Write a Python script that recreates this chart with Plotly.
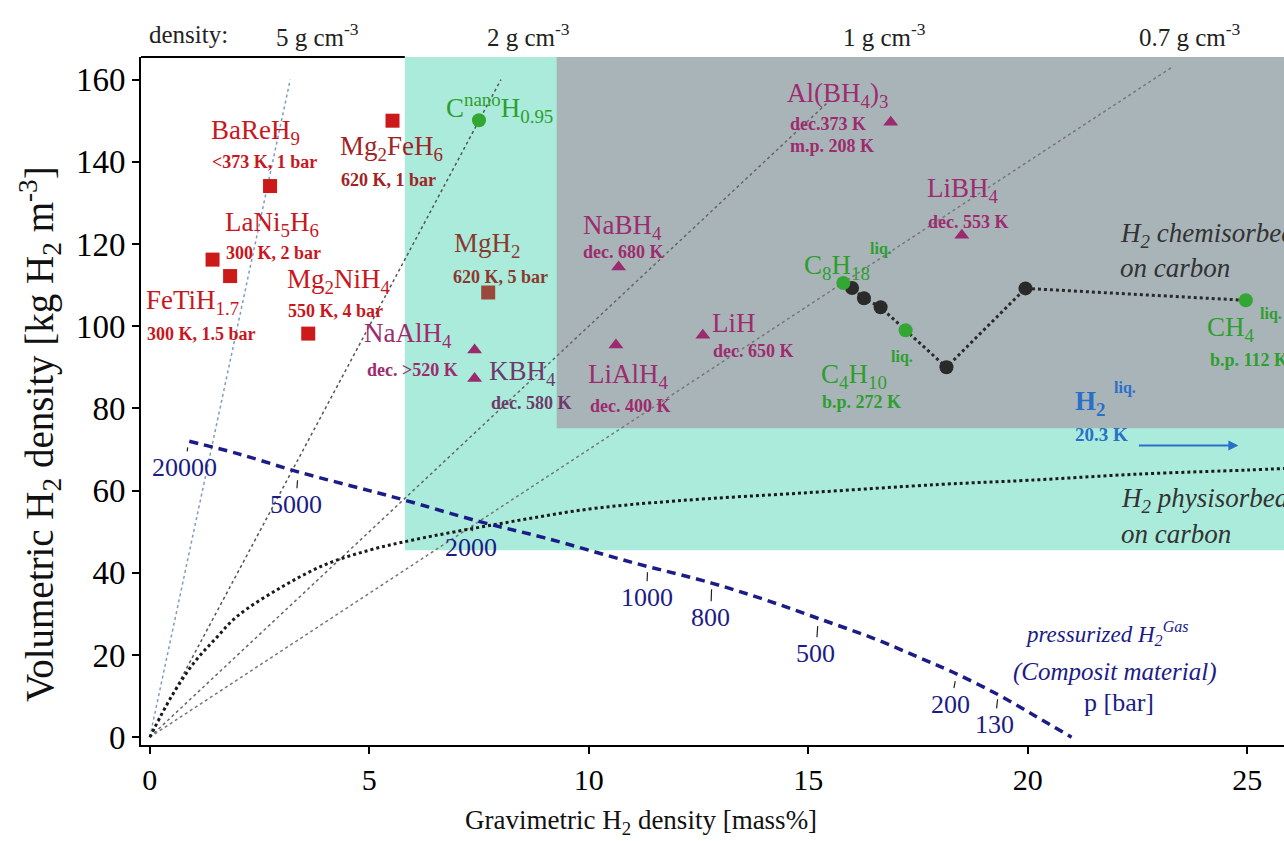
import plotly.graph_objects as go

# ---------------- data ----------------
# metal hydrides (red squares)
mh_names = ["LaNi5H6", "FeTiH1.7", "BaReH9", "Mg2NiH4", "Mg2FeH6"]
mh_x = [1.43, 1.83, 2.74, 3.61, 5.53]
mh_y = [116.2, 112.2, 134.1, 98.2, 150.0]
mgh2_x = [7.71]
mgh2_y = [108.2]

# complex hydrides (purple triangles)
ch_names = ["NaAlH4", "KBH4", "NaBH4", "LiAlH4", "LiH", "Al(BH4)3", "LiBH4"]
ch_x = [7.4, 7.4, 10.68, 10.62, 12.6, 16.88, 18.5]
ch_y = [94.2, 87.3, 114.4, 95.4, 97.8, 149.6, 122.1]

# hydrocarbons / carbon (green circles)
hc_names = ["CnanoH0.95", "C8H18", "C4H10", "CH4"]
hc_x = [7.5, 15.8, 17.22, 24.97]
hc_y = [150.1, 110.5, 99.0, 106.3]

# chemisorbed path (black dotted with black circles)
chem_x = [15.8, 16.0, 16.27, 16.65, 17.22, 18.15, 19.95, 24.97]
chem_y = [110.5, 109.3, 106.8, 104.6, 99.0, 90.0, 109.2, 106.3]
chem_pts_x = [16.0, 16.27, 16.65, 18.15, 19.95]
chem_pts_y = [109.3, 106.8, 104.6, 90.0, 109.2]

# physisorbed curve
phys_x = [0, 0.5, 1, 1.5, 2, 3, 4, 5, 6, 8, 10, 12, 15, 18, 20, 22.5, 25, 25.9]
phys_y = [0, 10, 18, 24, 29.5, 36.5, 42, 45.5, 48, 52, 55.5, 57.5, 59.5, 61.5, 62.5, 64, 65, 65.4]

# pressurized H2 curve
pres_x = [0.9, 2, 3.4, 5, 5.8, 7.5, 9, 11, 12.8, 14, 15.2, 16.5, 17.5, 18.3, 19.3, 20.2, 21.0]
pres_y = [72, 69, 64.5, 60, 57.7, 52.5, 48.5, 42.5, 37.5, 33.5, 29, 24, 19.5, 15.8, 10.5, 5, 0]
p_labels = ["20000", "5000", "2000", "1000", "800", "500", "200", "130"]
p_x = [0.87, 3.37, 7.36, 11.34, 12.80, 15.22, 18.36, 19.32]
p_y = [71.0, 63.0, 51.8, 40.6, 36.5, 27.5, 14.1, 9.7]

# material density lines (from origin)
dens_labels = ["5 g cm<sup>-3</sup>", "2 g cm<sup>-3</sup>", "1 g cm<sup>-3</sup>", "0.7 g cm<sup>-3</sup>"]
dens_end_x = [3.2, 8.0, 15.5, 23.3]
dens_end_y = [160, 160, 155, 163.1]

# liquid hydrogen
h2liq_x = [22.5, 24.8]
h2liq_y = [71, 71]

# ---------------- helpers for label placement ----------------
X0PX, XS, Y0PX, YS = 149, 43.9, 737, 4.11
def dx(px):
    return (px - X0PX) / XS
def dy(py):
    return (Y0PX - py) / YS

SERIF = "Liberation Serif"
RED = "#c8171e"
BROWN = "#8a3a2c"
PURPLE = "#9c2c6e"
GREEN = "#2e9e2e"
BLUE = "#2a70c8"
NAVY = "#1c1c86"
DARK = "#333333"

BIG = 27
SMALL = 18

fig = go.Figure()

# background regions
fig.add_shape(type="rect", xref="x", yref="y", x0=5.81, x1=27, y0=45.5, y1=166.5,
              fillcolor="#abebdc", line_width=0, layer="below")
fig.add_shape(type="rect", xref="x", yref="y", x0=9.27, x1=27, y0=75.2, y1=166.5,
              fillcolor="#a9b4b9", line_width=0, layer="below")
# top frame segment
fig.add_shape(type="line", xref="x", yref="paper", x0=-0.2, x1=5.81, y0=1, y1=1,
              line=dict(color="black", width=2))

# density lines
dens_colors = ["#7f9cc0", "#555555", "#666666", "#777777"]
for ex, ey, c in zip(dens_end_x, dens_end_y, dens_colors):
    fig.add_trace(go.Scatter(x=[0, ex], y=[0, ey], mode="lines",
                             line=dict(color=c, width=1.5, dash="dot"), hoverinfo="skip"))

# physisorbed curve
fig.add_trace(go.Scatter(x=phys_x, y=phys_y, mode="lines", line_shape="spline",
                         line=dict(color="#1a1a1a", width=3, dash="dot")))
# pressurized curve
fig.add_trace(go.Scatter(x=pres_x, y=pres_y, mode="lines", line_shape="spline",
                         line=dict(color=NAVY, width=3.5, dash="9px,6px")))
# chemisorbed path
fig.add_trace(go.Scatter(x=chem_x, y=chem_y, mode="lines",
                         line=dict(color="#2a2a2a", width=3, dash="dot")))
fig.add_trace(go.Scatter(x=chem_pts_x, y=chem_pts_y, mode="markers",
                         marker=dict(color="#2a2a2a", size=14, symbol="circle")))

# markers
fig.add_trace(go.Scatter(x=mh_x, y=mh_y, mode="markers", text=mh_names,
                         marker=dict(color="#cc1a1a", size=14, symbol="square")))
fig.add_trace(go.Scatter(x=mgh2_x, y=mgh2_y, mode="markers",
                         marker=dict(color="#9a4a3a", size=14, symbol="square")))
fig.add_trace(go.Scatter(x=ch_x, y=ch_y, mode="markers", text=ch_names,
                         marker=dict(color="#9b2a6e", size=13, symbol="triangle-up")))
fig.add_trace(go.Scatter(x=hc_x, y=hc_y, mode="markers", text=hc_names,
                         marker=dict(color="#33a633", size=14, symbol="circle")))

ann = []
def lab(text, px, py, color, size, xanchor="center", bold=False):
    ann.append(dict(text=("<b>" + text + "</b>") if bold else text, x=dx(px), y=dy(py),
                    xref="x", yref="y", showarrow=False, xanchor=xanchor, yanchor="middle",
                    font=dict(family=SERIF, size=size, color=color)))

# metal hydride labels
lab("BaReH<sub>9</sub>", 255, 132, RED, BIG)
lab("&lt;373 K, 1 bar", 264, 162, RED, SMALL, bold=True)
lab("Mg<sub>2</sub>FeH<sub>6</sub>", 391, 148, "#a02424", BIG)
lab("620 K, 1 bar", 388, 180, "#a02424", SMALL, bold=True)
lab("LaNi<sub>5</sub>H<sub>6</sub>", 271, 224, RED, BIG)
lab("300 K, 2 bar", 273, 253, RED, SMALL, bold=True)
lab("Mg<sub>2</sub>NiH<sub>4</sub>", 338, 281, RED, BIG)
lab("550 K, 4 bar", 335, 311, RED, SMALL, bold=True)
lab("FeTiH<sub>1.7</sub>", 192, 302, RED, BIG)
lab("300 K, 1.5 bar", 201, 334, RED, SMALL, bold=True)
lab("MgH<sub>2</sub>", 486, 245, BROWN, BIG)
lab("620 K, 5 bar", 500, 277, BROWN, SMALL, bold=True)

# carbon / hydrocarbons
lab("C<sup>nano</sup>H<sub>0.95</sub>", 499, 108, GREEN, BIG)
lab("C<sub>8</sub>H<sub>18</sub>", 836, 267, GREEN, BIG)
lab("liq.", 880, 249, GREEN, 16, bold=True)
lab("C<sub>4</sub>H<sub>10</sub>", 853, 376, GREEN, BIG)
lab("liq.", 901, 357, GREEN, 16, bold=True)
lab("b.p. 272 K", 861, 402, GREEN, SMALL, bold=True)
lab("CH<sub>4</sub>", 1230, 329, GREEN, BIG)
lab("liq.", 1270, 314, GREEN, 16, bold=True)
lab("b.p. 112 K", 1207, 360, GREEN, SMALL, xanchor="left", bold=True)

# complex hydrides
lab("Al(BH<sub>4</sub>)<sub>3</sub>", 837, 95, PURPLE, BIG)
lab("dec.373 K", 827, 124, PURPLE, SMALL, bold=True)
lab("m.p. 208 K", 831, 146, PURPLE, SMALL, bold=True)
lab("NaBH<sub>4</sub>", 622, 227, PURPLE, BIG)
lab("dec. 680 K", 623, 252, PURPLE, SMALL, bold=True)
lab("LiAlH<sub>4</sub>", 628, 376, PURPLE, BIG)
lab("dec. 400 K", 630, 406, PURPLE, SMALL, bold=True)
lab("LiH", 733, 323, PURPLE, BIG)
lab("dec. 650 K", 753, 351, PURPLE, SMALL, bold=True)
lab("LiBH<sub>4</sub>", 962, 190, PURPLE, BIG)
lab("dec. 553 K", 968, 222, PURPLE, SMALL, bold=True)
lab("NaAlH<sub>4</sub>", 407, 335, PURPLE, BIG)
lab("dec. &gt;520 K", 412, 370, PURPLE, SMALL, bold=True)
lab("KBH<sub>4</sub>", 522, 373, "#6e3a6a", BIG)
lab("dec. 580 K", 531, 403, "#6e3a6a", SMALL, bold=True)

# liquid hydrogen
lab("H<sub>2</sub>", 1089, 403, BLUE, BIG, bold=True)
lab("liq.", 1124, 388, BLUE, 16, bold=True)
lab("20.3 K", 1101, 434, BLUE, 19, bold=True)
ann.append(dict(x=h2liq_x[1], y=h2liq_y[1], ax=h2liq_x[0], ay=h2liq_y[0],
                xref="x", yref="y", axref="x", ayref="y", text="", showarrow=True,
                arrowhead=2, arrowsize=1, arrowwidth=2, arrowcolor=BLUE))

# chemisorbed / physisorbed text
lab("<i>H<sub>2</sub> chemisorbed</i>", 1117, 235, DARK, 27, xanchor="left")
lab("<i>on carbon</i>", 1117, 268, DARK, 27, xanchor="left")
lab("<i>H<sub>2</sub> physisorbed</i>", 1118, 500, DARK, 27, xanchor="left")
lab("<i>on carbon</i>", 1118, 534, DARK, 27, xanchor="left")

# pressurized text
lab("<i>pressurized H<sub>2</sub><sup>Gas</sup></i>", 1022, 633, NAVY, 23, xanchor="left")
lab("<i>(Composit material)</i>", 1114, 672, NAVY, 25)
lab("p [bar]", 1118, 702, NAVY, 26)

# pressure labels with small leader ticks
offsets = [(-3, 22), (-2, 26), (-2, 23), (-1, 27), (-1, 30), (-2, 29), (-5, 25), (-3, 27)]
for t, x, y, (ox, oy) in zip(p_labels, p_x, p_y, offsets):
    ann.append(dict(text=t, x=x, y=y, xref="x", yref="y", ax=ox, ay=oy, showarrow=True,
                    arrowhead=0, arrowwidth=1.2, arrowcolor="#222222", standoff=2,
                    font=dict(family=SERIF, size=26, color=NAVY)))

# density labels across the top
ann.append(dict(text="density:", x=dx(188), y=1.032, xref="x", yref="paper", showarrow=False,
                yanchor="middle", font=dict(family=SERIF, size=25, color="#222222")))
dens_label_px = [317, 528, 884, 1189]
for t, px in zip(dens_labels, dens_label_px):
    ann.append(dict(text=t, x=dx(px), y=1.032, xref="x", yref="paper", showarrow=False,
                    yanchor="middle", font=dict(family=SERIF, size=25, color="#222222")))

# axis titles
ann.append(dict(text="Gravimetric H<sub>2</sub> density [mass%]", x=dx(640), y=-0.112,
                xref="x", yref="paper", showarrow=False, yanchor="middle",
                font=dict(family=SERIF, size=27, color="#111111")))
ann.append(dict(text="Volumetric H<sub>2</sub> density [kg H<sub>2</sub> m<sup>-3</sup>]",
                x=-0.0884, y=0.452, xref="paper", yref="paper", showarrow=False,
                textangle=-90, xanchor="center", yanchor="middle",
                font=dict(family=SERIF, size=39, color="#111111")))

fig.update_layout(
    width=1284, height=841,
    margin=dict(l=141, r=0, t=57, b=96),
    plot_bgcolor="white", paper_bgcolor="white",
    showlegend=False,
    annotations=ann,
    font=dict(family=SERIF, color="black"),
)
fig.update_xaxes(range=[-0.2, 25.84], tickvals=[0, 5, 10, 15, 20, 25], showgrid=False,
                 zeroline=False, showline=True, linecolor="black", linewidth=2,
                 ticks="outside", ticklen=7, tickwidth=1.5, tickcolor="black",
                 tickfont=dict(family=SERIF, size=30, color="black"))
fig.update_yaxes(range=[-1.9, 165.5], tickvals=[0, 20, 40, 60, 80, 100, 120, 140, 160],
                 showgrid=False, zeroline=False, showline=True, linecolor="black", linewidth=2,
                 ticks="outside", ticklen=7, tickwidth=1.5, tickcolor="black",
                 tickfont=dict(family=SERIF, size=33, color="black"))

fig.write_html("out.html", config={"displayModeBar": False},
               post_script="document.body.style.margin='0';")
